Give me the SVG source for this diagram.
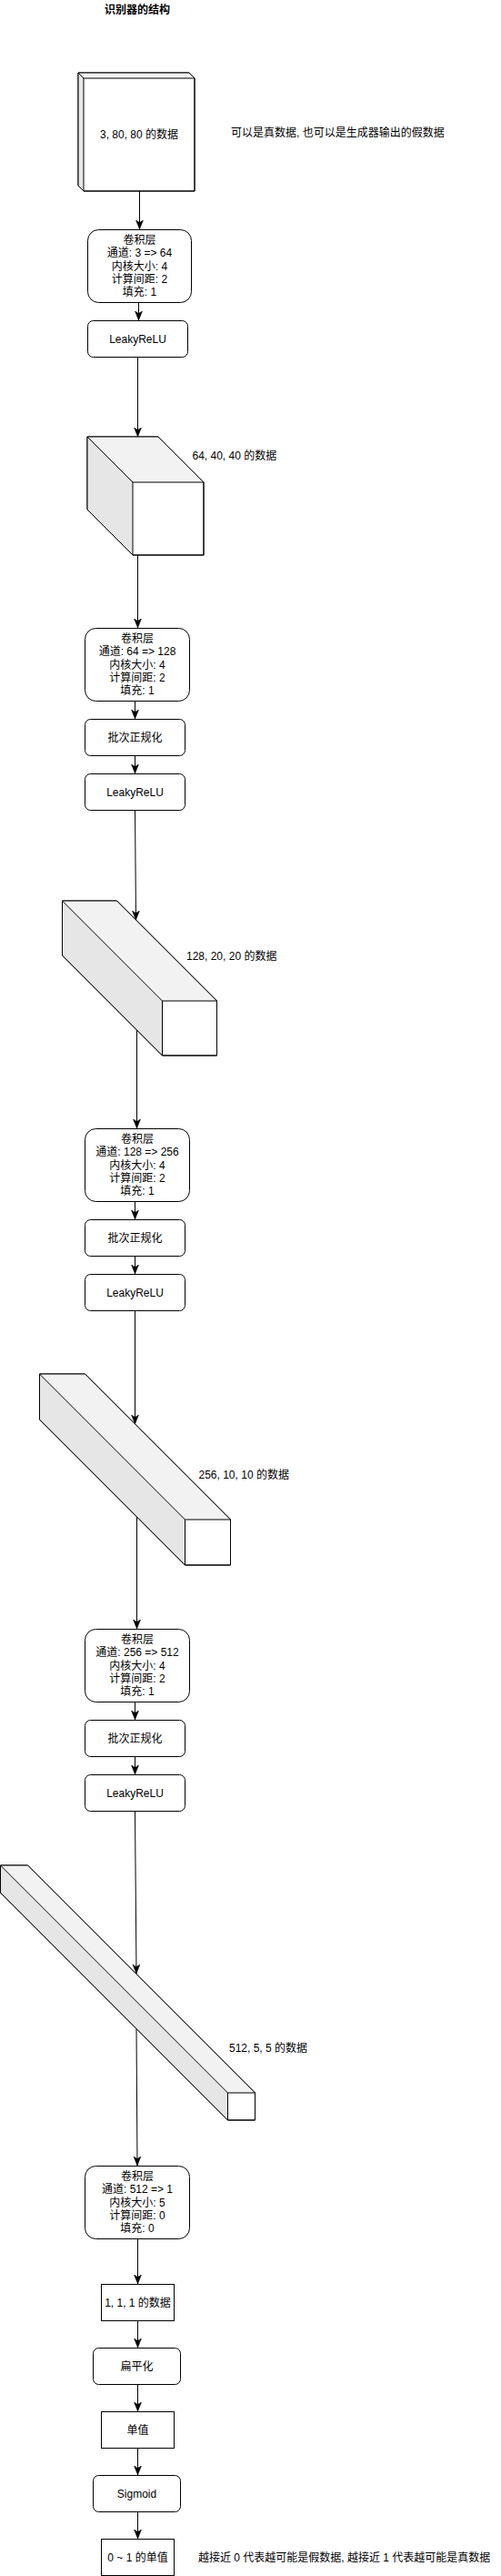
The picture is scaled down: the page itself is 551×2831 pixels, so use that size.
<svg xmlns="http://www.w3.org/2000/svg" width="551" height="2831" viewBox="0 0 551 2831">
<style>
text{font-family:'Liberation Sans','Noto Sans CJK SC',sans-serif;font-size:12px;fill:#000;dominant-baseline:central}
.c{text-anchor:middle}
.t{font-weight:bold}
.box{fill:#fff;stroke:#000;stroke-width:1}
.cf{fill:#fff;stroke:#000;stroke-width:1;stroke-linejoin:round}
.top{fill:#f2f2f2;stroke:none}
.side{fill:#e6e6e6;stroke:none}
.in{fill:none;stroke:#000;stroke-width:1}
.e{fill:none;stroke:#000;stroke-width:1;marker-end:url(#ah)}
</style>
<defs>
<marker id="ah" markerUnits="userSpaceOnUse" markerWidth="10" markerHeight="10" viewBox="0 0 10 8" refX="10" refY="4" orient="auto">
<path d="M0,0 L10,4 L0,8 L2.5,4 Z" fill="#000" stroke="#000" stroke-width="0.5"/>
</marker>
</defs>
<rect width="551" height="2831" fill="#fff"/>
<text id="title" class="c t" x="151" y="11">识别器的结构</text>

<g id="connectors">
<line class="e" x1="153.5" y1="210" x2="153.5" y2="252"/>
<line class="e" x1="152.5" y1="332.5" x2="152.5" y2="352"/>
<line class="e" x1="151.5" y1="392.5" x2="151.5" y2="480"/>
<line class="e" x1="151.5" y1="610" x2="151.5" y2="690"/>
<line class="e" x1="148.5" y1="770.5" x2="148.5" y2="790"/>
<line class="e" x1="148.5" y1="830.5" x2="148.5" y2="850"/>
<line class="e" x1="148.5" y1="890.5" x2="149.5" y2="1011"/>
<line class="e" x1="150.5" y1="1132" x2="150.5" y2="1240"/>
<line class="e" x1="148.5" y1="1320.5" x2="148.5" y2="1340"/>
<line class="e" x1="148.5" y1="1380.5" x2="148.5" y2="1400"/>
<line class="e" x1="148.5" y1="1440.5" x2="148.5" y2="1565"/>
<line class="e" x1="150.5" y1="1667" x2="150.5" y2="1790"/>
<line class="e" x1="148.5" y1="1870.5" x2="148.5" y2="1890"/>
<line class="e" x1="148.5" y1="1930.5" x2="148.5" y2="1950"/>
<line class="e" x1="148.5" y1="1990.5" x2="150" y2="2169"/>
<line class="e" x1="150" y1="2229.5" x2="151" y2="2380"/>
<line class="e" x1="151.5" y1="2460.5" x2="151.5" y2="2510"/>
<line class="e" x1="151.5" y1="2550.5" x2="151.5" y2="2580"/>
<line class="e" x1="151.5" y1="2620.5" x2="151.5" y2="2650"/>
<line class="e" x1="151.5" y1="2690.5" x2="151.5" y2="2720"/>
<line class="e" x1="151.5" y1="2760.5" x2="151.5" y2="2790"/>
</g>

<g id="data-3-80-80">
<path class="cf" d="M86,80 L208,80 L214,86 L214,210 L92,210 L86,204 Z"/>
<path class="top" d="M86,80 L208,80 L214,86 L92,86 Z"/>
<path class="side" d="M86,80 L92,86 L92,210 L86,204 Z"/>
<path class="cf" style="fill:none" d="M86,80 L208,80 L214,86 L214,210 L92,210 L86,204 Z"/>
<path class="in" d="M86,80 L92,86 L214,86 M92,86 L92,210"/>
<text class="c" x="153" y="148">3, 80, 80 的数据</text>
</g>
<text id="note-input" x="254" y="146">可以是真数据, 也可以是生成器输出的假数据</text>

<g id="conv1">
<rect class="box" x="96.5" y="252.5" width="114" height="80" rx="12"/>
<text class="c" x="153.5" y="263.7">卷积层</text>
<text class="c" x="153.5" y="278.1">通道: 3 =&gt; 64</text>
<text class="c" x="153.5" y="292.5">内核大小: 4</text>
<text class="c" x="153.5" y="306.9">计算间距: 2</text>
<text class="c" x="153.5" y="321.3">填充: 1</text>
</g>
<g id="lrelu1">
<rect class="box" x="96.5" y="352.5" width="110" height="40" rx="6"/>
<text class="c" x="151.5" y="372.5">LeakyReLU</text>
</g>

<g id="data-64-40-40">
<path class="cf" d="M96,480 L174,480 L224,530 L224,610 L146,610 L96,560 Z"/>
<path class="top" d="M96,480 L174,480 L224,530 L146,530 Z"/>
<path class="side" d="M96,480 L146,530 L146,610 L96,560 Z"/>
<path class="cf" style="fill:none" d="M96,480 L174,480 L224,530 L224,610 L146,610 L96,560 Z"/>
<path class="in" d="M96,480 L146,530 L224,530 M146,530 L146,610"/>
</g>
<text id="label-64" x="211.5" y="501">64, 40, 40 的数据</text>

<g id="conv2">
<rect class="box" x="93.5" y="690.5" width="115" height="80" rx="12"/>
<text class="c" x="151" y="701.7">卷积层</text>
<text class="c" x="151" y="716.1">通道: 64 =&gt; 128</text>
<text class="c" x="151" y="730.5">内核大小: 4</text>
<text class="c" x="151" y="744.9">计算间距: 2</text>
<text class="c" x="151" y="759.3">填充: 1</text>
</g>
<g id="bn2">
<rect class="box" x="93.5" y="790.5" width="110" height="40" rx="6"/>
<text class="c" x="148.5" y="810.5">批次正规化</text>
</g>
<g id="lrelu2">
<rect class="box" x="93.5" y="850.5" width="110" height="40" rx="6"/>
<text class="c" x="148.5" y="870.5">LeakyReLU</text>
</g>

<g id="data-128-20-20">
<path class="cf" d="M68.5,990 L128.5,990 L238.5,1100 L238.5,1160 L178.5,1160 L68.5,1050 Z"/>
<path class="top" d="M68.5,990 L128.5,990 L238.5,1100 L178.5,1100 Z"/>
<path class="side" d="M68.5,990 L178.5,1100 L178.5,1160 L68.5,1050 Z"/>
<path class="cf" style="fill:none" d="M68.5,990 L128.5,990 L238.5,1100 L238.5,1160 L178.5,1160 L68.5,1050 Z"/>
<path class="in" d="M68.5,990 L178.5,1100 L238.5,1100 M178.5,1100 L178.5,1160"/>
</g>
<text id="label-128" x="205" y="1051">128, 20, 20 的数据</text>

<g id="conv3">
<rect class="box" x="93.5" y="1240.5" width="115" height="80" rx="12"/>
<text class="c" x="151" y="1251.7">卷积层</text>
<text class="c" x="151" y="1266.1">通道: 128 =&gt; 256</text>
<text class="c" x="151" y="1280.5">内核大小: 4</text>
<text class="c" x="151" y="1294.9">计算间距: 2</text>
<text class="c" x="151" y="1309.3">填充: 1</text>
</g>
<g id="bn3">
<rect class="box" x="93.5" y="1340.5" width="110" height="40" rx="6"/>
<text class="c" x="148.5" y="1360.5">批次正规化</text>
</g>
<g id="lrelu3">
<rect class="box" x="93.5" y="1400.5" width="110" height="40" rx="6"/>
<text class="c" x="148.5" y="1420.5">LeakyReLU</text>
</g>

<g id="data-256-10-10">
<path class="cf" d="M43.5,1510 L93.5,1510 L253.5,1670 L253.5,1720 L203.5,1720 L43.5,1560 Z"/>
<path class="top" d="M43.5,1510 L93.5,1510 L253.5,1670 L203.5,1670 Z"/>
<path class="side" d="M43.5,1510 L203.5,1670 L203.5,1720 L43.5,1560 Z"/>
<path class="cf" style="fill:none" d="M43.5,1510 L93.5,1510 L253.5,1670 L253.5,1720 L203.5,1720 L43.5,1560 Z"/>
<path class="in" d="M43.5,1510 L203.5,1670 L253.5,1670 M203.5,1670 L203.5,1720"/>
</g>
<text id="label-256" x="218.5" y="1620.5">256, 10, 10 的数据</text>

<g id="conv4">
<rect class="box" x="93.5" y="1790.5" width="115" height="80" rx="12"/>
<text class="c" x="151" y="1801.7">卷积层</text>
<text class="c" x="151" y="1816.1">通道: 256 =&gt; 512</text>
<text class="c" x="151" y="1830.5">内核大小: 4</text>
<text class="c" x="151" y="1844.9">计算间距: 2</text>
<text class="c" x="151" y="1859.3">填充: 1</text>
</g>
<g id="bn4">
<rect class="box" x="93.5" y="1890.5" width="110" height="40" rx="6"/>
<text class="c" x="148.5" y="1910.5">批次正规化</text>
</g>
<g id="lrelu4">
<rect class="box" x="93.5" y="1950.5" width="110" height="40" rx="6"/>
<text class="c" x="148.5" y="1970.5">LeakyReLU</text>
</g>

<g id="data-512-5-5">
<path class="cf" d="M0.5,2050 L30.5,2050 L280.5,2300 L280.5,2330 L250.5,2330 L0.5,2080 Z"/>
<path class="top" d="M0.5,2050 L30.5,2050 L280.5,2300 L250.5,2300 Z"/>
<path class="side" d="M0.5,2050 L250.5,2300 L250.5,2330 L0.5,2080 Z"/>
<path class="cf" style="fill:none" d="M0.5,2050 L30.5,2050 L280.5,2300 L280.5,2330 L250.5,2330 L0.5,2080 Z"/>
<path class="in" d="M0.5,2050 L250.5,2300 L280.5,2300 M250.5,2300 L250.5,2330"/>
</g>
<text id="label-512" x="252" y="2250.5">512, 5, 5 的数据</text>

<g id="conv5">
<rect class="box" x="93.5" y="2380.5" width="115" height="80" rx="12"/>
<text class="c" x="151" y="2391.7">卷积层</text>
<text class="c" x="151" y="2406.1">通道: 512 =&gt; 1</text>
<text class="c" x="151" y="2420.5">内核大小: 5</text>
<text class="c" x="151" y="2434.9">计算间距: 0</text>
<text class="c" x="151" y="2449.3">填充: 0</text>
</g>
<g id="data-1-1-1">
<rect class="box" x="111.5" y="2510.5" width="80" height="40"/>
<text class="c" x="151.5" y="2530.5">1, 1, 1 的数据</text>
</g>
<g id="flatten">
<rect class="box" x="102.5" y="2580.5" width="96" height="40" rx="6"/>
<text class="c" x="150.5" y="2600.5">扁平化</text>
</g>
<g id="single">
<rect class="box" x="111.5" y="2650.5" width="80" height="40"/>
<text class="c" x="151.5" y="2670.5">单值</text>
</g>
<g id="sigmoid">
<rect class="box" x="102.5" y="2720.5" width="96" height="40" rx="6"/>
<text class="c" x="150.5" y="2740.5">Sigmoid</text>
</g>
<g id="output">
<rect class="box" x="111.5" y="2790.5" width="80" height="40"/>
<text class="c" x="151.5" y="2810.5">0 ~ 1 的单值</text>
</g>
<text id="note-output" x="218" y="2810.5">越接近 0 代表越可能是假数据, 越接近 1 代表越可能是真数据</text>
</svg>
